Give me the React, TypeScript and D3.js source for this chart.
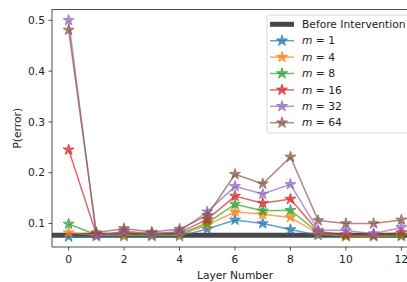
import React from "react";
import * as d3 from "d3";

const layers = [0, 1, 2, 3, 4, 5, 6, 7, 8, 9, 10, 11, 12];
const m1 = [0.074, 0.075, 0.075, 0.075, 0.075, 0.089, 0.107, 0.100, 0.088, 0.077, 0.075, 0.075, 0.075];
const m4 = [0.082, 0.077, 0.077, 0.077, 0.077, 0.097, 0.123, 0.118, 0.112, 0.080, 0.075, 0.075, 0.076];
const m8 = [0.099, 0.078, 0.079, 0.078, 0.079, 0.101, 0.138, 0.125, 0.126, 0.082, 0.076, 0.076, 0.077];
const m16 = [0.245, 0.079, 0.082, 0.080, 0.082, 0.108, 0.154, 0.140, 0.148, 0.084, 0.078, 0.078, 0.082];
const m32 = [0.500, 0.075, 0.085, 0.080, 0.084, 0.123, 0.173, 0.158, 0.177, 0.087, 0.086, 0.080, 0.092];
const m64 = [0.481, 0.082, 0.090, 0.083, 0.089, 0.116, 0.197, 0.178, 0.231, 0.106, 0.100, 0.100, 0.107];
const beforeIntervention = 0.077;
const seriesLabels = ["1", "4", "8", "16", "32", "64"];
const seriesValues = [m1, m4, m8, m16, m32, m64];
const colors = ["#1f77b4", "#ff7f0e", "#2ca02c", "#d62728", "#9467bd", "#8c564b"];
const xTicks = [0, 2, 4, 6, 8, 10, 12];
const yTicks = [0.1, 0.2, 0.3, 0.4, 0.5];

const W = 407, H = 282;
const left = 52, right = 418, top = 9.5, bottom = 247;
const font = "DejaVu Sans, sans-serif";
const fs = 10.7;

function starPath(r: number) {
  const ri = r * 0.381966;
  const pts: string[] = [];
  for (let i = 0; i < 10; i++) {
    const a = -Math.PI / 2 + (i * Math.PI) / 5;
    const rr = i % 2 === 0 ? r : ri;
    pts.push(`${(rr * Math.cos(a)).toFixed(3)},${(rr * Math.sin(a)).toFixed(3)}`);
  }
  return "M" + pts.join("L") + "Z";
}

export default function App() {
  const x = d3.scaleLinear().domain([-0.6, 12.6]).range([left, right]);
  const y = d3.scaleLinear().domain([0.0537, 0.5213]).range([bottom, top]);
  const line = d3
    .line<number>()
    .x((_, i) => x(layers[i]))
    .y((d) => y(d));
  const star = starPath(5.8);
  const alpha = 0.7;
  const legX = 267, legY = 15, legRow = 16.4;

  return (
    <svg width={W} height={H} style={{ position: "absolute", left: 0, top: 0, background: "white" }} fontFamily={font}>
      <defs>
        <clipPath id="plot">
          <rect x={left} y={top} width={right - left} height={bottom - top} />
        </clipPath>
      </defs>
      <g clipPath="url(#plot)">
        <line x1={left} x2={right} y1={y(beforeIntervention)} y2={y(beforeIntervention)} stroke="#333" strokeOpacity={0.9} strokeWidth={5} />
        {seriesValues.map((vals, si) => (
          <g key={si}>
            <path d={line(vals) || ""} fill="none" stroke={colors[si]} strokeOpacity={alpha} strokeWidth={1.5} />
            {vals.map((v, i) => (
              <path key={i} d={star} transform={`translate(${x(layers[i])},${y(v)})`} fill={colors[si]} fillOpacity={alpha} stroke={colors[si]} strokeOpacity={alpha} strokeWidth={1} />
            ))}
          </g>
        ))}
      </g>
      {/* spines */}
      <line x1={left} x2={left} y1={top} y2={bottom} stroke="#222" strokeWidth={0.8} />
      <line x1={left} x2={right} y1={bottom} y2={bottom} stroke="#222" strokeWidth={0.8} />
      <line x1={left} x2={right} y1={top} y2={top} stroke="#222" strokeWidth={0.8} />
      {/* x ticks */}
      {xTicks.map((t) => (
        <g key={t}>
          <line x1={x(t)} x2={x(t)} y1={bottom} y2={bottom + 3.5} stroke="#222" strokeWidth={0.8} />
          <text x={x(t)} y={262.5} fontSize={fs} textAnchor="middle" fill="#222">{t}</text>
        </g>
      ))}
      {yTicks.map((t) => (
        <g key={t}>
          <line x1={left - 3.5} x2={left} y1={y(t)} y2={y(t)} stroke="#222" strokeWidth={0.8} />
          <text x={left - 7} y={y(t)} dy="0.35em" fontSize={fs} textAnchor="end" fill="#222">{t.toFixed(1)}</text>
        </g>
      ))}
      <text x={(left + right) / 2} y={279} fontSize={fs} textAnchor="middle" fill="#222">Layer Number</text>
      <text transform={`translate(21,${(top + bottom) / 2}) rotate(-90)`} fontSize={fs} textAnchor="middle" fill="#222">P(error)</text>
      {/* legend */}
      <rect x={legX} y={legY} width={200} height={118} rx={2} fill="white" fillOpacity={0.8} stroke="#ccc" strokeWidth={0.8} />
      <line x1={legX + 3} x2={legX + 27} y1={legY + 9.3} y2={legY + 9.3} stroke="#333" strokeOpacity={0.9} strokeWidth={5} />
      <text x={legX + 35} y={legY + 9.3} dy="0.35em" fontSize={fs} fill="#222">Before Intervention</text>
      {seriesLabels.map((lab, i) => {
        const yy = legY + 9.3 + legRow * (i + 1);
        return (
          <g key={lab}>
            <line x1={legX + 3} x2={legX + 27} y1={yy} y2={yy} stroke={colors[i]} strokeOpacity={alpha} strokeWidth={1.5} />
            <path d={star} transform={`translate(${legX + 15},${yy})`} fill={colors[i]} fillOpacity={alpha} stroke={colors[i]} strokeOpacity={alpha} strokeWidth={1} />
            <text x={legX + 35} y={yy} dy="0.35em" fontSize={fs} fill="#222">
              <tspan fontStyle="italic">m</tspan>
              <tspan> = {lab}</tspan>
            </text>
          </g>
        );
      })}
    </svg>
  );
}
